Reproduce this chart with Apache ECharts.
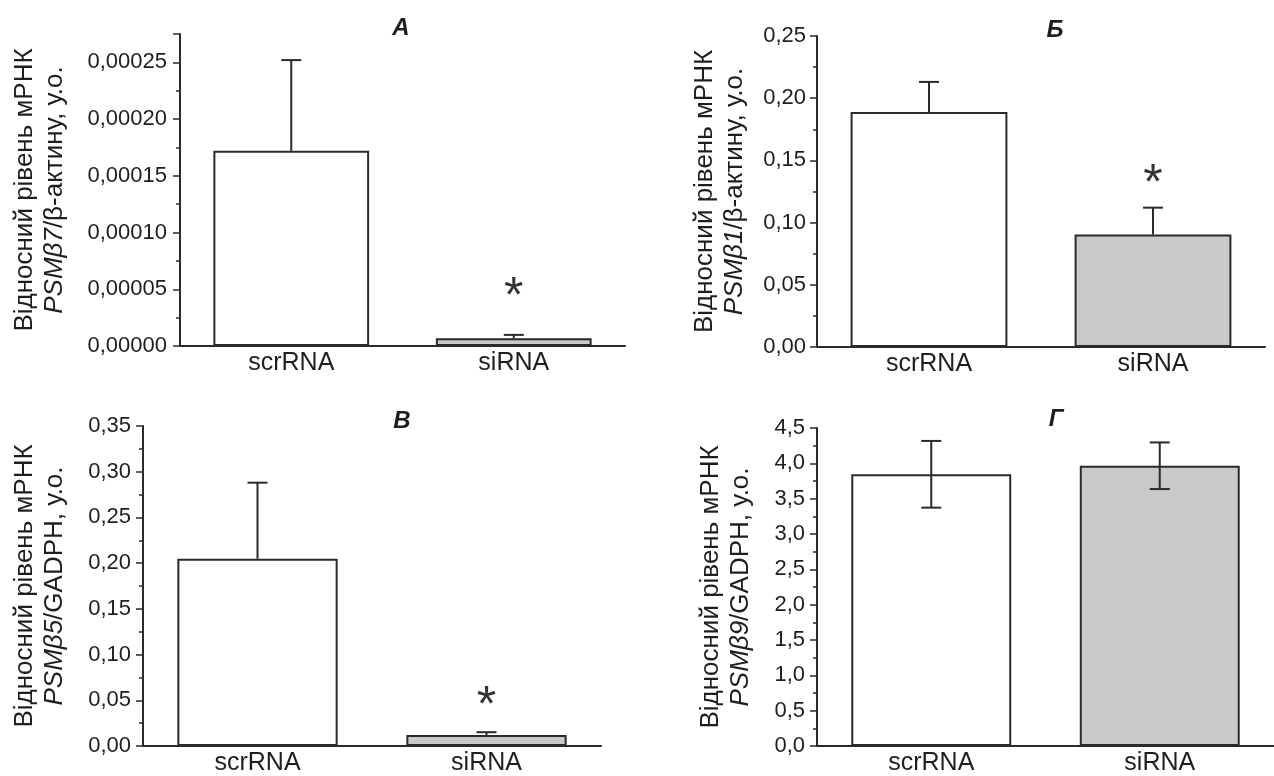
<!DOCTYPE html>
<html>
<head>
<meta charset="utf-8">
<script src="https://cdn.jsdelivr.net/npm/echarts@6/dist/echarts.min.js"></script>
<style>
  html, body { margin: 0; padding: 0; background: #fff; }
  #chart { width: 1274px; height: 776px; }
</style>
</head>
<body>
<div id="chart"></div>
<script>
// categories and values
var categories = ['scrRNA', 'siRNA'];

var meanA = [0.000172, 0.0000068];
var errA  = [0.000080, 0.0000030];
var starA = [null, 0.000052];

var meanB = [0.189, 0.0904];
var errB  = [0.0241, 0.0216];
var starB = [null, 0.139];

var meanV = [0.2047, 0.0119];
var errV  = [0.0833, 0.0032];
var starV = [null, 0.054];

var meanG = [3.845, 3.966];
var errG  = [0.472, 0.33];
var starG = [null, null];

var panelTitles = ['А', 'Б', 'В', 'Г'];
var genes = ['PSMβ7', 'PSMβ1', 'PSMβ5', 'PSMβ9'];
var refs = ['/β-актину, у.о.', '/β-актину, у.о.', '/GADPH, у.о.', '/GADPH, у.о.'];

var FONT = "'Liberation Sans', Arial, sans-serif";
var INK = '#2a2a2a';
var barFill = ['#ffffff', '#c8c9cb'];

// panel layouts
var panels = [
  { grid: { left: 180, top: 34, width: 445, height: 312 }, max: 0.000275, interval: 0.00005, dec: 5, nameGap: 110, labelMargin: 13, mean: meanA, err: errA, star: starA, both: false, title: [401, 28] },
  { grid: { left: 817, top: 36, width: 448, height: 311 }, max: 0.25, interval: 0.05, dec: 2, nameGap: 67, labelMargin: 11, mean: meanB, err: errB, star: starB, both: false, title: [1055, 30] },
  { grid: { left: 143, top: 426, width: 458, height: 324 }, max: 0.35, interval: 0.05, dec: 2, nameGap: 73, labelMargin: 12, mean: meanV, err: errV, star: starV, both: false, title: [402, 421] },
  { grid: { left: 817, top: 428, width: 472, height: 322 }, max: 4.5, interval: 0.5, dec: 1, nameGap: 61, labelMargin: 12, mean: meanG, err: errG, star: starG, both: true, title: [1056, 419] }
];

function errorBars(params, api) {
  var x = api.value(0), v = api.value(1), e = api.value(2), both = api.value(3);
  var top = api.coord([x, v + e]);
  var bot = api.coord([x, both ? v - e : v]);
  var hw = 10;
  var st = { stroke: INK, lineWidth: 2 };
  var kids = [
    { type: 'line', shape: { x1: top[0], y1: top[1], x2: bot[0], y2: bot[1] }, style: st },
    { type: 'line', shape: { x1: top[0] - hw, y1: top[1], x2: top[0] + hw, y2: top[1] }, style: st }
  ];
  if (both) {
    kids.push({ type: 'line', shape: { x1: bot[0] - hw, y1: bot[1], x2: bot[0] + hw, y2: bot[1] }, style: st });
  }
  return { type: 'group', children: kids };
}

var grids = [], xAxes = [], yAxes = [], series = [], graphics = [];

panels.forEach(function (p, i) {
  grids.push(p.grid);

  // axis with ticks under the labels
  xAxes.push({
    gridIndex: i, type: 'category', data: categories, position: 'bottom',
    axisLine: { lineStyle: { color: INK, width: 2 } },
    axisTick: { alignWithLabel: true, length: 4, lineStyle: { color: INK, width: 1.5 } },
    axisLabel: { fontFamily: FONT, fontSize: 25, color: '#1e1e1e', margin: 5 }
  });
  // second axis only for the ticks between groups
  xAxes.push({
    gridIndex: i, type: 'category', data: categories, position: 'bottom',
    axisLine: { show: false },
    axisTick: { length: 4, lineStyle: { color: INK, width: 1.5 } },
    axisLabel: { show: false }
  });

  yAxes.push({
    gridIndex: i, type: 'value', min: 0, max: p.max, interval: p.interval,
    splitLine: { show: false },
    axisLine: { show: true, lineStyle: { color: INK, width: 2 } },
    axisTick: { show: true, length: 7, lineStyle: { color: INK, width: 1.5 } },
    minorTick: { show: true, splitNumber: 2, length: 4, lineStyle: { color: INK, width: 1.5 } },
    axisLabel: {
      fontFamily: FONT, fontSize: 22, color: '#1e1e1e', margin: p.labelMargin, showMaxLabel: p.dec !== 5,
      formatter: (function (d) { return function (v) { return v.toFixed(d).replace('.', ','); }; })(p.dec)
    },
    name: '{n|Відносний рівень мРНК}\n{i|' + genes[i] + '}{n|' + refs[i] + '}',
    nameLocation: 'middle',
    nameGap: p.nameGap,
    nameTextStyle: {
      rich: {
        n: { fontFamily: FONT, fontSize: 26, color: '#1e1e1e', lineHeight: 30 },
        i: { fontFamily: FONT, fontSize: 26, color: '#1e1e1e', lineHeight: 30, fontStyle: 'italic' }
      }
    }
  });

  series.push({
    type: 'bar', xAxisIndex: i * 2, yAxisIndex: i, barWidth: '70%',
    data: p.mean.map(function (v, k) {
      return { value: v, itemStyle: { color: barFill[k], borderColor: INK, borderWidth: 2 } };
    }),
    silent: true
  });

  series.push({
    type: 'custom', xAxisIndex: i * 2, yAxisIndex: i, renderItem: errorBars, silent: true, z: 5,
    data: p.mean.map(function (v, k) { return [k, v, p.err[k], p.both ? 1 : 0]; })
  });

  var stars = [];
  p.star.forEach(function (s, k) { if (s != null) stars.push([k, s]); });
  if (stars.length) {
    series.push({
      type: 'scatter', xAxisIndex: i * 2, yAxisIndex: i, symbolSize: 0, silent: true,
      data: stars,
      label: { show: true, position: 'inside', formatter: '*', fontFamily: FONT, fontSize: 50, color: '#000', offset: [0, 11] }
    });
  }

  graphics.push({
    type: 'text', x: p.title[0], y: p.title[1],
    style: { text: panelTitles[i], font: 'italic bold 24px ' + FONT, fill: '#1e1e1e', align: 'center', verticalAlign: 'middle' }
  });
});

var myChart = echarts.init(document.getElementById('chart'));
myChart.setOption({
  backgroundColor: '#fff',
  animation: false,
  grid: grids,
  xAxis: xAxes,
  yAxis: yAxes,
  series: series,
  graphic: graphics
});
</script>
</body>
</html>
